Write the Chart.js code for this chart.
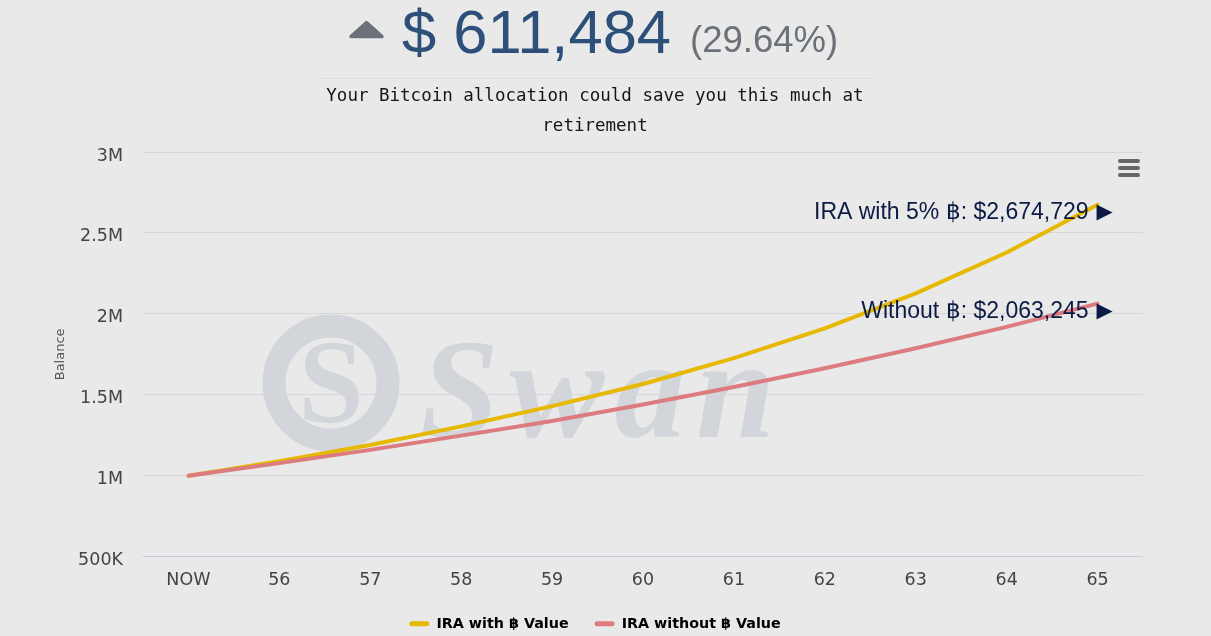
<!DOCTYPE html>
<html>
<head>
<meta charset="utf-8">
<script src="https://cdn.jsdelivr.net/npm/chart.js@4.4.1/dist/chart.umd.min.js"></script>
<style>
  html, body { margin: 0; padding: 0; background: #e9e9e9; overflow: hidden; width: 1211px; height: 636px; }
  .wm { position: absolute; left: 0; top: 0; z-index: 0; }
  .wrap { position: absolute; left: 0; top: 0; width: 1211px; height: 641px; z-index: 1; }
  .hdr { position: absolute; z-index: 2; font-family: "Liberation Sans", Arial, sans-serif; white-space: nowrap; }
  .big { left: 402px; top: 1px; font-size: 61.5px; line-height: 61.5px; color: #2c5079; }
  .pct { left: 690px; top: 22px; font-size: 36.5px; line-height: 36.5px; color: #6b7179; }
  .rule { position: absolute; left: 320px; top: 78px; width: 550px; height: 1px; background: #dcdcdc; }
  .sub { position: absolute; left: 300px; top: 80px; width: 590px; text-align: center;
         font-family: "DejaVu Sans Mono", monospace; font-size: 17.5px; line-height: 30px; color: #151515; z-index: 2; }
  .menu { position: absolute; left: 1118px; top: 159px; width: 22px; z-index: 2; }
  .menu i { display: block; height: 3.5px; background: #666; border-radius: 2px; margin-bottom: 3.5px; }
</style>
</head>
<body>
<svg class="wm" width="1211" height="636">
  <circle cx="331" cy="383" r="57" fill="none" stroke="#d2d5da" stroke-width="23"/>
  <text x="331" y="422" text-anchor="middle" font-family="Liberation Serif, serif" font-weight="bold" font-size="118" fill="#d2d5da">S</text>
  <text x="420" y="437" font-family="Liberation Serif, serif" font-weight="bold" font-style="italic" font-size="142" textLength="355" fill="#d2d5da">Swan</text>
</svg>

<svg class="hdr" style="left:348px;top:20px" width="37" height="20">
  <polygon points="3,16.5 18.5,2.5 34,16.5" fill="#6b7079" stroke="#6b7079" stroke-width="3.5" stroke-linejoin="round"/>
</svg>
<div class="hdr big">$ 611,484</div>
<div class="hdr pct">(29.64%)</div>
<div class="rule"></div>
<div class="sub">Your Bitcoin allocation could save you this much at<br>retirement</div>
<div class="menu"><i></i><i></i><i></i></div>

<div class="wrap"><canvas id="chart"></canvas></div>

<script>
// ── data ──
const ages = ['NOW', '56', '57', '58', '59', '60', '61', '62', '63', '64', '65'];
const withBtc    = [1000000, 1090000, 1190000, 1305000, 1430000, 1567000, 1727000, 1911000, 2127000, 2379000, 2674729];
const withoutBtc = [1000000, 1078000, 1160000, 1248000, 1338000, 1440000, 1548000, 1664000, 1788000, 1920000, 2063245];
const seriesNames = ['IRA with ฿ Value', 'IRA without ฿ Value'];
const endLabels   = ['IRA with 5% ฿: ', 'Without ฿: '];
const yTicks = [500000, 1000000, 1500000, 2000000, 2500000, 3000000];

const YELLOW = '#e6b800';
const RED = '#dc7c80';

// ── end-of-line value labels ──
const endLabelPlugin = {
  id: 'endLabels',
  afterDatasetsDraw(chart) {
    const ctx = chart.ctx;
    ctx.save();
    ctx.fillStyle = '#0c1b45';
    ctx.textBaseline = 'middle';
    chart.data.datasets.forEach((ds, i) => {
      const meta = chart.getDatasetMeta(i);
      const pt = meta.data[meta.data.length - 1];
      const v = ds.data[ds.data.length - 1];
      ctx.font = '23px "Liberation Sans", Arial, sans-serif';
      ctx.textAlign = 'right';
      ctx.fillText(endLabels[i] + '$' + v.toLocaleString('en-US'), pt.x - 9, pt.y + 8);
      ctx.font = '21px "DejaVu Sans", sans-serif';
      ctx.textAlign = 'left';
      ctx.fillText('▶', pt.x - 1, pt.y + 8);
    });
    ctx.restore();
  }
};

const tickFont = { family: '"DejaVu Sans", Verdana, sans-serif', size: 17.5 };

new Chart(document.getElementById('chart'), {
  type: 'line',
  data: {
    labels: ages,
    datasets: [
      { label: seriesNames[0], data: withBtc, borderColor: YELLOW, backgroundColor: YELLOW,
        borderWidth: 4, pointRadius: 0, tension: 0, borderCapStyle: 'round', borderJoinStyle: 'round', order: 1 },
      { label: seriesNames[1], data: withoutBtc, borderColor: RED, backgroundColor: RED,
        borderWidth: 4, pointRadius: 0, tension: 0, borderCapStyle: 'round', borderJoinStyle: 'round', order: 0 }
    ]
  },
  options: {
    responsive: true,
    maintainAspectRatio: false,
    animation: false,
    layout: { padding: { top: 152, right: 68, left: 47, bottom: 0 } },
    plugins: {
      tooltip: { enabled: false },
      legend: {
        position: 'bottom',
        labels: {
          font: { family: '"DejaVu Sans", Verdana, sans-serif', size: 14.3, weight: 'bold' },
          color: '#333',
          boxWidth: 20,
          boxHeight: 5,
          padding: 26,
          useBorderRadius: true,
          borderRadius: 2.5,
          generateLabels: chart => chart.data.datasets.map((ds, i) => ({
            text: ds.label, fillStyle: ds.borderColor, strokeStyle: ds.borderColor,
            lineWidth: 0, datasetIndex: i, borderRadius: 2.5
          }))
        }
      }
    },
    scales: {
      x: {
        offset: true,
        grid: { display: false },
        border: { display: false },
        ticks: { font: tickFont, color: '#444', padding: 5 },
        afterFit: s => { s.height = 34; }
      },
      y: {
        min: 500000,
        max: 3000000,
        afterBuildTicks: s => { s.ticks = yTicks.map(v => ({ value: v })); },
        ticks: {
          font: tickFont, color: '#444', padding: 20, labelOffset: 4,
          callback: v => v >= 1000000 ? (v / 1000000) + 'M' : (v / 1000) + 'K'
        },
        grid: {
          drawTicks: false,
          color: c => c.tick && c.tick.value === 500000 ? '#c3cad9' : '#d7d7d7'
        },
        border: { display: false },
        title: {
          display: true, text: 'Balance', color: '#555',
          font: { family: '"DejaVu Sans", Verdana, sans-serif', size: 13 },
          padding: { top: 6, bottom: 0 }
        },
        afterFit: s => { s.width = 96; }
      }
    }
  },
  plugins: [endLabelPlugin]
});
</script>
</body>
</html>
